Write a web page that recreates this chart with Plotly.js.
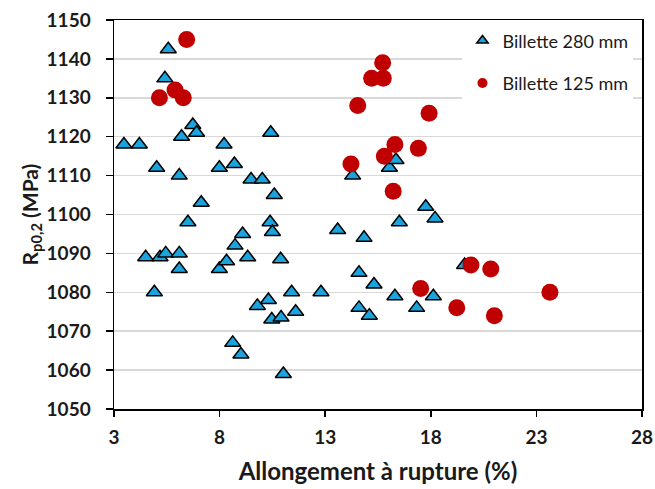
<!DOCTYPE html>
<html><head><meta charset="utf-8">
<script src="https://cdn.plot.ly/plotly-3.0.1.min.js"></script>
<style>html,body{margin:0;padding:0;background:#fff}#chart{width:655px;height:489px}</style>
</head><body><div id="chart"></div>
<script>
var seriesNames = ["Billette 280 mm", "Billette 125 mm"];
var x280 = [5.57,5.41,6.73,6.91,6.2,3.47,4.2,8.21,10.42,5.02,7.99,8.70,6.09,9.49,10.02,10.59,7.13,6.50,4.5,5.18,5.45,6.09,6.09,4.91,7.99,8.33,8.73,9.09,9.33,10.39,10.5,10.89,9.79,10.31,10.47,10.91,11.6,8.62,9.01,11.02,11.41,12.8,13.59,14.84,14.6,15.31,14.6,15.09,16.3,16.51,17.76,18.2,17.33,18.12,14.3,16.04,16.35,19.6];
var y280 = [1142.5,1135,1123,1121,1120,1118,1118,1118,1121,1112,1112,1113,1110,1109,1109,1105,1103,1098,1089,1089,1090,1090,1086,1080,1086,1088,1092,1095,1089,1098,1095.5,1088.5,1076.5,1078,1073,1073.5,1075,1067,1064,1059,1080,1080,1096,1094,1085,1082,1076,1074,1079,1098,1102,1099,1076,1079,1110,1112,1114,1087];
var x125 = [6.44,5.89,5.15,6.28,15.72,15.2,15.75,14.54,17.92,16.3,17.41,15.8,14.22,16.22,17.52,19.23,19.9,20.84,21.01,23.64];
var y125 = [1145,1132,1130,1130,1139,1135,1135,1128,1126,1118,1117,1115,1113,1106,1081,1076,1087,1086,1074,1080];
var xTicks = [3,8,13,18,23,28];
var yTicks = [1050,1060,1070,1080,1090,1100,1110,1120,1130,1140,1150];

var blue = '#1ba3dd', red = '#c00000';
var traces = [
  {x:x280, y:y280, type:'scatter', mode:'markers', name:seriesNames[0], showlegend:false,
   marker:{symbol:'triangle-up', size:14, color:blue, line:{color:'#000', width:1.5}}},
  {x:x125, y:y125, type:'scatter', mode:'markers', name:seriesNames[1], showlegend:false,
   marker:{symbol:'circle', size:17, color:red, line:{width:0}}},
  {x:[null], y:[null], type:'scatter', mode:'markers', name:seriesNames[0], legendgroup:'a',
   marker:{symbol:'triangle-up', size:10, color:blue, line:{color:'#000', width:1.5}}},
  {x:[null], y:[null], type:'scatter', mode:'markers', name:seriesNames[1], legendgroup:'b',
   marker:{symbol:'circle', size:10, color:red, line:{width:0}}}
];
var tickFont = {family:'Lato, "Open Sans", sans-serif', size:19, color:'#1a1a1a', weight:'bold'};
var layout = {
  width:655, height:489,
  margin:{l:114, r:13, t:20, b:80},
  paper_bgcolor:'#fff', plot_bgcolor:'#fff',
  showlegend:true,
  legend:{x:0.66, y:0.994, xanchor:'left', yanchor:'top', bgcolor:'#fff', borderwidth:0,
          traceorder:'grouped', tracegroupgap:16,
          font:{family:'Lato, "Open Sans", sans-serif', size:18, color:'#1a1a1a'}},
  xaxis:{range:[3,28], tickvals:xTicks, ticktext:xTicks.map(String), showgrid:false, zeroline:false,
         showline:true, linecolor:'#000', linewidth:1.5, mirror:true,
         ticks:'outside', ticklen:6, tickwidth:1.5, tickcolor:'#000', ticklabelstandoff:5,
         tickfont:tickFont,
         title:{text:'Allongement à rupture (%)', standoff:16,
                font:{family:'Lato, "Open Sans", sans-serif', size:24, color:'#1a1a1a', weight:'bold'}}},
  yaxis:{range:[1050,1150], tickvals:yTicks, ticktext:yTicks.map(String), showgrid:true, gridcolor:'#d9d9d9', gridwidth:1.5,
         zeroline:false, showline:true, linecolor:'#000', linewidth:1.5, mirror:true,
         ticks:'outside', ticklen:7, tickwidth:1.5, tickcolor:'#000', ticklabelstandoff:11,
         tickfont:tickFont,
         title:{text:'R<sub>p0,2</sub> (MPa)', standoff:2,
                font:{family:'Lato, "Open Sans", sans-serif', size:21, color:'#1a1a1a', weight:'bold'}}}
};
Plotly.newPlot('chart', traces, layout, {displayModeBar:false, staticPlot:true});
</script></body></html>
